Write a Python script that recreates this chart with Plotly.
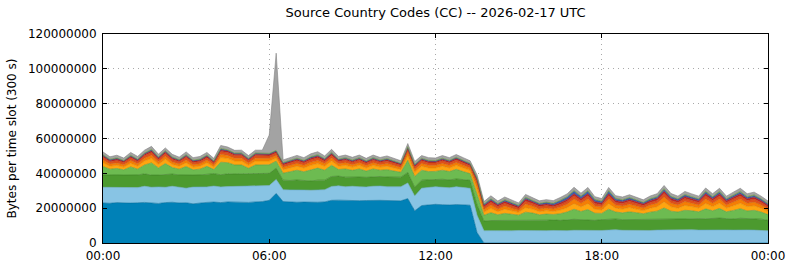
import pandas as pd
import plotly.graph_objects as go

# time slots (15-minute readings of the 5-minute series), values in MB per slot
times = pd.date_range("2026-02-17 00:00", periods=97, freq="15min")

db = [23.0,22.8,23.2,23.0,22.9,23.1,23.3,23.0,22.7,23.2,23.4,23.0,23.1,22.5,23.0,23.3,23.5,23.2,23.6,23.4,23.5,23.3,23.6,23.8,24.5,
      28.5,
      23.8,23.5,23.4,23.5,23.3,23.4,23.6,
      24.5,24.6,24.4,24.5,24.3,24.4,24.6,24.5,24.4,24.3,24.2,
      25.5,18.5,
      21.5,22.0,22.2,22.0,21.8,22.1,22.0,21.7,
      6.0,
      0,0,0,0,0,0,0,0,0,0,0,0,0,0,0,0,0,0,0,0,0,0,0,0,0,0,0,0,0,0,0,0,0,0,0,0,0,0,0,0,0,0]
lb = [9.0,9.2,8.8,9.1,9.0,8.7,9.3,9.0,9.5,8.8,9.2,9.0,8.4,9.6,9.1,8.9,9.2,9.0,8.8,9.1,9.0,9.2,8.9,9.0,8.5,
      8.0,
      6.8,7.0,7.2,6.9,7.0,7.1,7.0,
      8.0,8.2,7.9,8.1,8.0,7.8,8.0,8.2,7.9,8.0,8.1,
      9.0,8.5,
      10.0,9.8,10.1,10.0,9.9,10.2,10.0,9.7,
      10.0,
      7.0,7.1,7.0,6.9,7.0,7.2,7.1,7.0,7.0,7.1,7.2,7.0,7.1,7.3,7.2,7.1,7.0,7.2,7.4,7.6,7.3,7.2,7.1,7.3,7.2,7.4,7.5,7.3,7.4,7.5,7.6,7.4,7.5,7.6,7.7,7.5,7.4,7.6,7.5,7.4,7.3,7.0]
dg = [7.0,7.2,7.1,6.9,7.0,7.3,7.1,7.0,6.8,7.2,7.0,7.1,7.4,6.9,7.0,7.2,7.1,7.0,7.3,7.1,7.2,7.0,7.1,7.2,7.0,
      6.5,
      5.5,5.4,5.6,5.5,5.3,5.6,5.5,5.7,5.6,5.5,5.4,5.6,5.5,5.3,5.5,5.6,5.4,5.5,
      6.0,5.0,
      4.6,4.5,4.4,4.6,4.5,4.5,4.4,4.6,
      6.0,
      5.6,5.8,5.9,5.8,6.0,5.9,6.0,6.1,5.9,6.0,6.1,6.0,6.2,6.3,6.2,6.1,6.0,6.2,6.3,6.2,6.1,6.3,6.4,6.2,6.3,6.4,6.3,6.5,6.4,6.3,6.5,6.6,6.4,6.5,6.6,6.5,6.4,6.6,6.5,6.6,6.4,6.0]
lg = [4.9,3.2,3.7,3.0,4.8,3.3,5.1,7.0,4.1,6.4,3.7,3.3,5.0,3.0,3.3,4.6,2.4,7.2,6.4,5.2,5.1,3.4,5.2,4.9,4.9,
      4.0,
      4.0,5.0,5.6,5.0,6.5,6.9,5.7,6.4,3.8,4.7,3.7,4.6,3.6,4.6,3.6,4.2,3.6,2.8,
      7.0,6.2,
      5.7,4.7,4.4,5.2,4.8,5.5,4.6,3.8,
      6.0,
      3.3,4.5,3.3,4.3,3.6,2.9,4.6,4.1,3.3,3.5,3.1,3.8,4.5,5.8,4.7,6.0,4.1,3.6,5.7,4.0,3.9,4.4,3.9,3.3,4.2,4.5,6.3,4.5,4.0,5.0,4.4,3.9,5.7,4.4,5.5,3.9,4.9,5.5,4.4,4.8,4.1,3.3]
yo = [2.2,1.7,1.8,1.6,2.1,1.7,2.3,2.6,2.0,2.5,1.8,1.7,2.2,1.6,1.7,2.1,1.4,2.7,2.5,2.3,2.3,1.7,2.3,2.2,2.2,
      1.8,
      2.0,2.2,2.3,2.2,2.5,2.6,2.3,2.5,1.9,2.1,1.9,2.1,1.8,2.1,1.8,2.0,1.8,1.5,
      2.6,2.4,
      2.3,2.1,2.0,2.3,2.1,2.3,2.1,1.9,
      3.0,
      1.9,2.5,1.8,2.4,2.0,1.6,2.6,2.3,1.8,2.0,1.7,2.1,2.5,3.2,2.6,3.4,2.3,2.0,3.2,2.2,2.2,2.5,2.1,1.8,2.3,2.5,3.5,2.5,2.2,2.8,2.4,2.2,3.1,2.4,3.0,2.2,2.7,3.1,2.5,2.6,2.2,1.8]
og = [1.6,1.3,1.4,1.3,1.6,1.4,1.6,1.8,1.5,1.7,1.4,1.3,1.6,1.3,1.4,1.5,1.2,1.8,1.7,1.6,1.6,1.4,1.6,1.5,1.5,
      1.5,
      1.4,1.5,1.6,1.5,1.7,1.7,1.5,1.7,1.4,1.5,1.4,1.5,1.4,1.5,1.4,1.5,1.4,1.3,
      1.8,1.6,
      1.6,1.5,1.5,1.6,1.5,1.6,1.5,1.4,
      2.5,
      1.5,1.9,1.5,1.8,1.5,1.2,2.0,1.7,1.5,1.5,1.4,1.7,2.0,2.6,2.1,2.6,1.8,1.6,2.6,1.8,1.7,1.9,1.7,1.5,1.8,2.0,2.8,2.0,1.8,2.2,1.9,1.7,2.5,1.9,2.4,1.7,2.1,2.4,1.9,2.1,1.8,1.4]
ro = [1.5,1.3,1.4,1.3,1.5,1.3,1.5,1.6,1.4,1.6,1.4,1.3,1.5,1.3,1.3,1.4,1.2,1.6,1.6,1.5,1.5,1.3,1.5,1.4,1.4,
      1.4,
      1.3,1.4,1.5,1.4,1.5,1.6,1.4,1.5,1.3,1.4,1.3,1.4,1.3,1.4,1.3,1.4,1.3,1.2,
      1.6,1.5,
      1.5,1.4,1.4,1.5,1.4,1.5,1.4,1.3,
      2.0,
      1.3,1.6,1.4,1.6,1.4,1.2,1.7,1.5,1.4,1.4,1.3,1.5,1.6,1.9,1.6,1.9,1.5,1.4,1.9,1.5,1.5,1.6,1.5,1.4,1.5,1.6,2.0,1.6,1.5,1.7,1.6,1.5,1.9,1.6,1.8,1.5,1.7,1.8,1.6,1.7,1.5,1.3]
dr = [0.8,0.7,0.8,0.7,0.8,0.7,0.8,0.9,0.8,0.9,0.8,0.7,0.8,0.7,0.7,0.8,0.7,0.9,0.9,0.8,0.8,0.7,0.8,0.8,0.8,
      0.8,
      0.7,0.8,0.8,0.8,0.9,0.9,0.8,0.9,0.7,0.8,0.7,0.8,0.7,0.8,0.7,0.8,0.7,0.7,
      0.9,0.8,
      0.8,0.8,0.7,0.8,0.8,0.8,0.8,0.7,
      1.0,
      0.9,1.0,0.9,1.0,0.9,0.8,1.1,1.0,0.9,0.9,0.9,1.0,1.1,1.2,1.0,1.2,1.0,0.9,1.2,1.0,1.0,1.0,1.0,0.9,1.0,1.1,1.3,1.1,1.0,1.1,1.0,1.0,1.2,1.0,1.2,1.0,1.1,1.2,1.0,1.1,1.0,0.9]
bl = [0.4,0.4,0.4,0.3,0.4,0.4,0.4,0.5,0.4,0.4,0.4,0.3,0.4,0.4,0.4,0.4,0.3,0.5,0.4,0.4,0.4,0.4,0.4,0.4,0.4,
      0.4,
      0.4,0.4,0.4,0.4,0.5,0.5,0.4,0.5,0.4,0.4,0.4,0.4,0.4,0.4,0.4,0.4,0.4,0.3,
      0.5,0.4,
      0.4,0.4,0.4,0.4,0.4,0.4,0.4,0.4,
      0.5,
      0.6,0.7,0.6,0.7,0.6,0.6,0.8,0.7,0.7,0.8,0.9,1.1,1.2,1.4,1.2,1.3,1.0,0.9,1.3,1.0,0.9,0.9,0.8,0.7,0.8,0.8,1.0,0.9,0.8,0.9,0.8,0.8,1.0,0.9,1.0,0.8,0.9,1.0,0.9,0.9,0.8,0.7]
sg = [0.3,0.3,0.3,0.2,0.3,0.3,0.3,0.4,0.3,0.3,0.3,0.2,0.3,0.3,0.3,0.3,0.2,0.4,0.3,0.3,0.3,0.3,0.3,0.3,0.3,
      0.3,
      0.3,0.3,0.3,0.3,0.4,0.4,0.3,0.4,0.3,0.3,0.3,0.3,0.3,0.3,0.3,0.3,0.3,0.2,
      0.4,0.3,
      0.3,0.3,0.3,0.3,0.3,0.3,0.3,0.3,
      0.4,
      0.3,0.4,0.3,0.4,0.3,0.3,0.4,0.3,0.3,0.3,0.3,0.4,0.4,0.5,0.4,0.5,0.4,0.3,0.5,0.4,0.3,0.4,0.3,0.3,0.4,0.4,0.5,0.4,0.3,0.4,0.4,0.3,0.5,0.4,0.5,0.3,0.4,0.5,0.4,0.4,0.3,0.3]
gr = [1.6,1.4,1.5,1.4,1.6,1.5,1.6,1.7,1.5,1.6,1.5,1.4,1.6,1.4,1.5,1.5,1.4,1.7,1.6,1.5,1.6,1.5,1.6,1.8,
      10.5,55.8,
      1.5,1.5,1.6,1.5,1.6,1.7,1.5,1.7,1.5,1.5,1.5,1.5,1.4,1.5,1.4,1.5,1.4,1.4,
      1.8,1.6,
      1.5,1.5,1.4,1.5,1.5,1.6,1.5,1.4,
      1.7,
      1.4,1.6,1.4,1.5,1.4,1.3,1.6,1.5,1.4,1.4,1.4,1.5,1.6,1.8,1.6,1.8,1.5,1.4,1.8,1.5,1.5,1.5,1.5,1.4,1.5,1.6,1.8,1.6,1.5,1.7,1.6,1.5,1.8,1.6,1.7,1.5,1.6,1.7,1.6,1.6,1.5,1.4]

layers = [
    ("db", db, "#0081b7", "#006a98"),
    ("lb", lb, "#88c4e4", "#6aa7c8"),
    ("dg", dg, "#4c9a2f", "#3b7c23"),
    ("lg", lg, "#6dbb51", "#56993e"),
    ("yo", yo, "#ffa40f", "#d98a00"),
    ("og", og, "#f57d05", "#c86400"),
    ("ro", ro, "#e0501b", "#b43c10"),
    ("dr", dr, "#c02428", "#901a1c"),
    ("bl", bl, "#3d63b3", "#2a4a8e"),
    ("sg", sg, "#86b94c", "#689436"),
    ("gr", gr, "#a3a3a3", "#828282"),
]

fig = go.Figure()
for name, vals, fill, line in layers:
    fig.add_trace(go.Scatter(
        x=times, y=[v * 1e6 for v in vals], name=name,
        mode="lines", stackgroup="one",
        line=dict(color=line, width=0.6),
        fillcolor=fill, hoverinfo="skip",
    ))

font_family = "DejaVu Sans"
fig.update_layout(
    width=790, height=267,
    margin=dict(l=103, r=22, t=34, b=24),
    paper_bgcolor="white", plot_bgcolor="white",
    showlegend=False,
    font=dict(family=font_family, size=12, color="black"),
    title=dict(text="Source Country Codes (CC) -- 2026-02-17 UTC",
               x=0.5513, xanchor="center", xref="container",
               y=0.955, yanchor="middle", yref="container",
               font=dict(size=13, family=font_family)),
)
grid_dash = "1px,4px"
fig.update_xaxes(
    range=["2026-02-17 00:00", "2026-02-18 00:00"],
    tickvals=pd.date_range("2026-02-17 00:00", periods=5, freq="6h"),
    tickformat="%H:%M", automargin=False,
    showline=True, linecolor="black", linewidth=1, mirror="ticks",
    ticks="inside", ticklen=4, tickcolor="black", ticklabelstandoff=2,
    showgrid=True, gridcolor="#a8a8a8", griddash=grid_dash, gridwidth=1,
    zeroline=False,
)
fig.update_yaxes(
    range=[0, 120e6], tick0=0, dtick=20e6, tickformat="d", automargin=False,
    showline=True, linecolor="black", linewidth=1, mirror="ticks",
    ticks="inside", ticklen=4, tickcolor="black", ticklabelstandoff=3,
    showgrid=True, gridcolor="#a8a8a8", griddash=grid_dash, gridwidth=1,
    zeroline=False,
    title=dict(text="Bytes per time slot (300 s)", standoff=8, font=dict(size=12)),
)
fig.write_html("out.html")
